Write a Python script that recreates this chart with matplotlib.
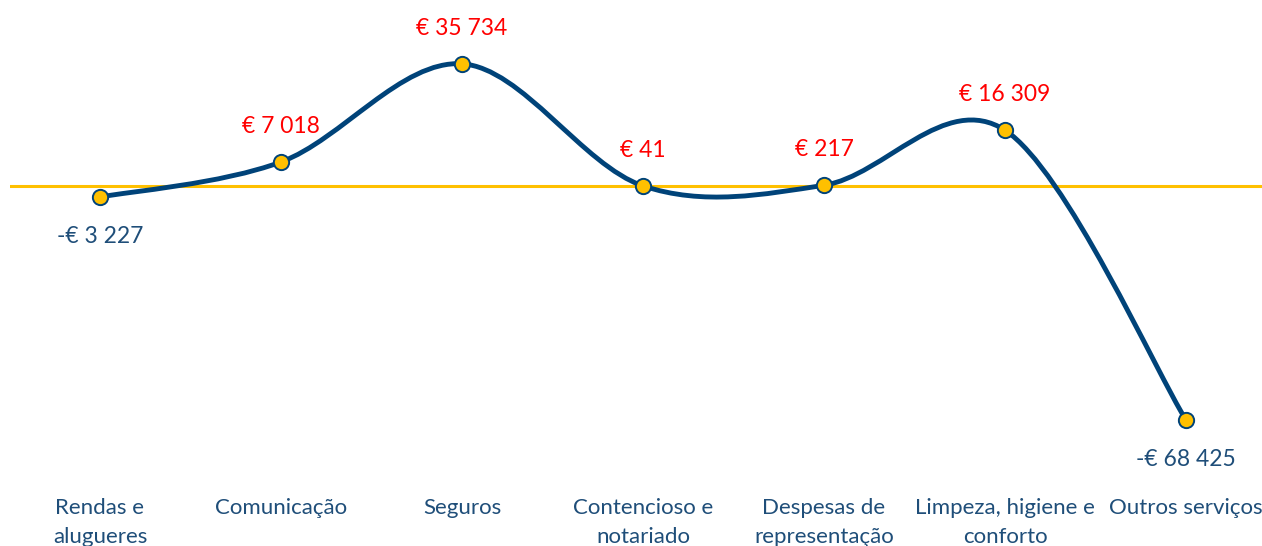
import numpy as np
import matplotlib
matplotlib.use("Agg")
import matplotlib.pyplot as plt
from matplotlib.path import Path
from matplotlib.patches import PathPatch
import matplotlib.transforms as mtransforms

categories = ["Rendas e\nalugueres", "Comunicação", "Seguros", "Contencioso e\nnotariado",
              "Despesas de\nrepresentação", "Limpeza, higiene e\nconforto", "Outros serviços"]
values = [-3227, 7018, 35734, 41, 217, 16309, -68425]
labels = ["-€ 3 227", "€ 7 018", "€ 35 734", "€ 41", "€ 217", "€ 16 309", "-€ 68 425"]

BLUE = "#1F4E79"
LINE = "#004379"
YELLOW = "#FFC000"
RED = "#FF0000"
FONT = ["Lato", "DejaVu Sans"]

W, H = 1262, 546
fig = plt.figure(figsize=(W / 100, H / 100), dpi=100)

left_px, right_px, top_px, bot_px = 9.5, 1262, 0, 480
ax = fig.add_axes([left_px / W, 1 - bot_px / H, (right_px - left_px) / W, (bot_px - top_px) / H])
ax.set_axis_off()

x = np.arange(len(values))
y = np.array(values, dtype=float)

sp = 181.0
ax.set_xlim(-(100 - left_px) / sp, (right_px - 100) / sp)
k = (420 - 186) / 68425.0
ax.set_ylim(-(bot_px - 186) / k, (186 - top_px) / k)

# Catmull-Rom smoothing (Excel-like) via cubic Bezier
pts = np.column_stack([x, y])
verts = [tuple(pts[0])]
codes = [Path.MOVETO]
n = len(pts)
for i in range(n - 1):
    p0 = pts[i - 1] if i > 0 else pts[i]
    p1 = pts[i]
    p2 = pts[i + 1]
    p3 = pts[i + 2] if i + 2 < n else pts[i + 1]
    c1 = p1 + (p2 - p0) / 6.0
    c2 = p2 - (p3 - p1) / 6.0
    verts += [tuple(c1), tuple(c2), tuple(p2)]
    codes += [Path.CURVE4] * 3

ax.axhline(0, color=YELLOW, lw=2.2, zorder=1)
ax.add_patch(PathPatch(Path(verts, codes), facecolor="none", edgecolor=LINE, lw=3.5,
                       capstyle="round", zorder=2))
ax.plot(x, y, ls="none", marker="o", ms=11, mfc=YELLOW, mec=LINE, mew=1.4, zorder=3)

for xi, yi, lab in zip(x, y, labels):
    if yi >= 0:
        ax.annotate(lab, (xi, yi), xytext=(0, 25.5), textcoords="offset points",
                    ha="center", va="center", color=RED, fontsize=16.5, family=FONT)
    else:
        ax.annotate(lab, (xi, yi), xytext=(0, -28.5), textcoords="offset points",
                    ha="center", va="center", color=BLUE, fontsize=16.5, family=FONT)

trans = mtransforms.blended_transform_factory(ax.transData, fig.transFigure)
line_y = [508, 537]
for xi, cat in zip(x, categories):
    for j, part in enumerate(cat.split("\n")):
        ax.text(xi, 1 - line_y[j] / H, part, transform=trans, ha="center", va="center",
                color=BLUE, fontsize=16, family=FONT, clip_on=False)

fig.savefig("out.png", dpi=100)
